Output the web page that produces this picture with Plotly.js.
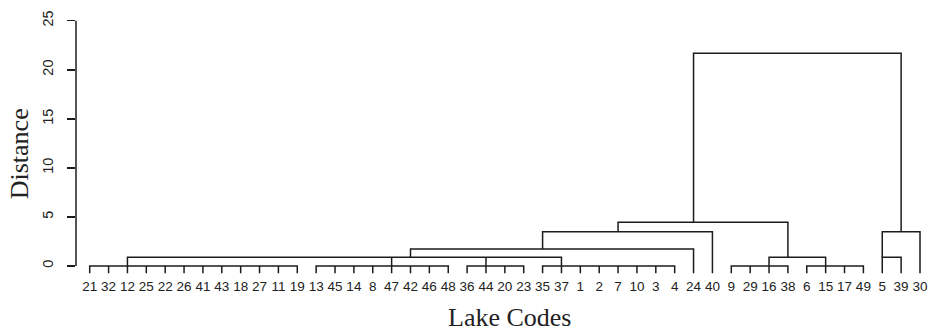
<!DOCTYPE html>
<html>
<head>
<meta charset="utf-8">
<script src="https://cdn.plot.ly/plotly-3.0.1.min.js"></script>
<style>html,body{margin:0;padding:0;background:#fff;}#chart{width:937px;height:336px;}</style>
</head>
<body>
<div id="chart"></div>
<script>
// Leaf order along the x axis (lake codes)
const leafLabels = ['21','32','12','25','22','26','41','43','18','27','11','19',
  '13','45','14','8','47','42','46','48',
  '36','44','20','23',
  '35','37','1','2','7','10','3','4',
  '24','40',
  '9','29','16','38',
  '6','15','17','49',
  '5','39','30'];

// Merge nodes: name, children (leaf codes or node names), merge distance, leaf the stem rises from
const nodeNames = ['g1','g2','g3','g4','g5','g6','n1','n2','n3','n4','n5','n6','n7','root'];
const nodeChildren = [
  ['21','32','12','25','22','26','41','43','18','27','11','19'],
  ['13','45','14','8','47','42','46','48'],
  ['36','44','20','23'],
  ['35','37','1','2','7','10','3','4'],
  ['9','29','16','38'],
  ['6','15','17','49'],
  ['g1','g2','g3','g4'],
  ['n1','24'],
  ['n2','40'],
  ['g5','g6'],
  ['n3','n4'],
  ['5','39'],
  ['n6','30'],
  ['n5','n7']
];
const nodeHeights = [0, 0, 0, 0, 0, 0, 0.89, 1.73, 3.50, 0.89, 4.45, 0.89, 3.50, 21.68];
const nodeAnchors = ['12','47','44','37','16','15','42','35','7','38','24','5','39', null];

// Y axis ticks
const yTicks = [0, 5, 10, 15, 20, 25];

const HANG = 0.74;
const pos = l => leafLabels.indexOf(l);
const nodeIdx = {};
nodeNames.forEach((n, i) => nodeIdx[n] = i);

const xs = [], ys = [];
function seg(pts) {
  pts.forEach(p => { xs.push(p[0]); ys.push(p[1]); });
  xs.push(null); ys.push(null);
}
nodeNames.forEach((name, i) => {
  const h = nodeHeights[i];
  const ch = nodeChildren[i].map(c => {
    if (c in nodeIdx) {
      const k = nodeIdx[c];
      return {x: pos(nodeAnchors[k]), h: nodeHeights[k]};
    }
    return {x: pos(c), h: -HANG};
  }).sort((a, b) => a.x - b.x);
  const L = ch[0], R = ch[ch.length - 1];
  seg([[L.x, L.h], [L.x, h], [R.x, h], [R.x, R.h]]);
  ch.slice(1, -1).forEach(c => { if (c.h < h) seg([[c.x, c.h], [c.x, h]]); });
});

const lineColor = '#1c1c1c';
const trace = {
  type: 'scatter', mode: 'lines', x: xs, y: ys,
  line: {color: lineColor, width: 1.5},
  hoverinfo: 'skip', showlegend: false, connectgaps: false
};

const xFont = {family: 'Liberation Sans, Arial, sans-serif', size: 13.5, color: '#222'};
const yFont = {family: 'Liberation Sans, Arial, sans-serif', size: 14.5, color: '#222'};
const serifFont = {family: 'Liberation Serif, Times New Roman, serif', size: 26, color: '#222'};

const layout = {
  width: 937, height: 336,
  margin: {l: 76, r: 7, t: 17, b: 61, pad: 0},
  paper_bgcolor: '#fff', plot_bgcolor: '#fff',
  showlegend: false,
  xaxis: {
    range: [-0.726, 44.53],
    tickmode: 'array',
    tickvals: leafLabels.map((_, i) => i),
    ticktext: leafLabels,
    tickangle: 0,
    ticks: '',
    showgrid: false, zeroline: false, showline: false,
    tickfont: xFont,
    ticklabelstandoff: 1,
    fixedrange: true
  },
  yaxis: {
    range: [-0.917, 25.377],
    tickmode: 'array',
    tickvals: yTicks,
    ticktext: yTicks.map(String),
    tickangle: -90,
    ticks: 'outside', ticklen: 8, tickwidth: 1.5, tickcolor: lineColor,
    showgrid: false, zeroline: false, showline: false,
    tickfont: yFont,
    ticklabelstandoff: 8,
    fixedrange: true
  },
  shapes: [{
    type: 'line', xref: 'paper', yref: 'y',
    x0: 0, x1: 0, y0: yTicks[0], y1: yTicks[yTicks.length - 1],
    line: {color: lineColor, width: 1.5}
  }],
  annotations: [
    {text: 'Distance', xref: 'paper', yref: 'paper', x: -0.0658, y: 0.471,
     xanchor: 'center', yanchor: 'middle', textangle: -90, showarrow: false, font: serifFont},
    {text: 'Lake Codes', xref: 'paper', yref: 'paper', x: 0.5076, y: -0.1636,
     xanchor: 'center', yanchor: 'middle', showarrow: false, font: serifFont}
  ]
};

Plotly.newPlot('chart', [trace], layout, {displayModeBar: false, staticPlot: true});
</script>
</body>
</html>
